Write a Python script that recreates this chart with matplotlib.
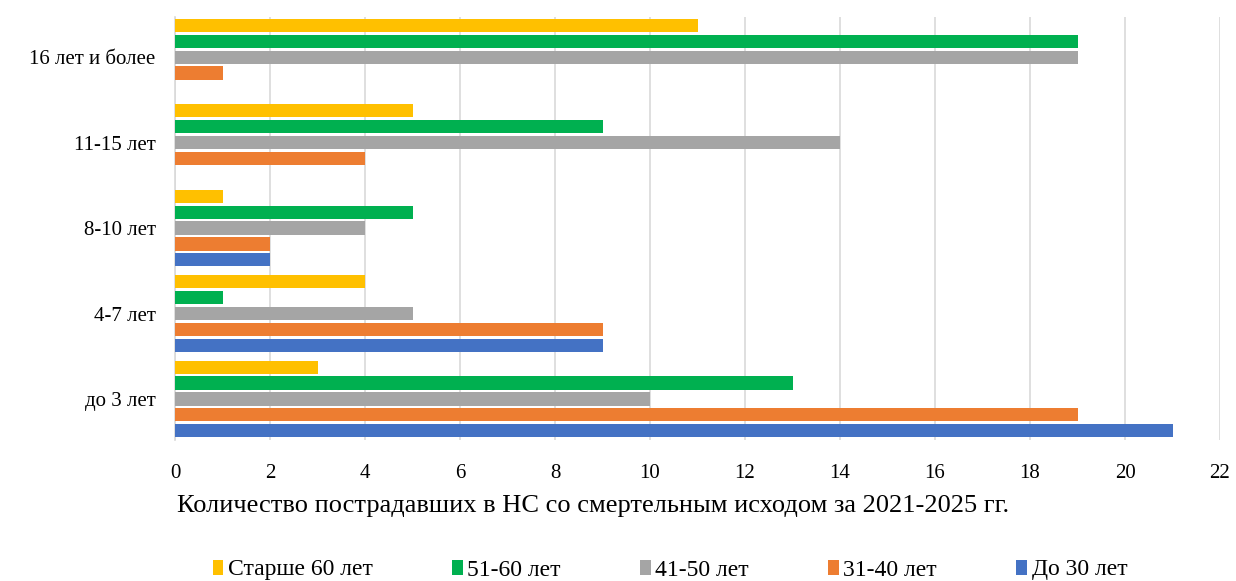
import numpy as np
import matplotlib.pyplot as plt

plt.rcParams['font.family'] = ['Liberation Serif', 'DejaVu Serif']

# Data
categories = ["до 3 лет", "4-7 лет", "8-10 лет", "11-15 лет", "16 лет и более"]
series_names = ["До 30 лет", "31-40 лет", "41-50 лет", "51-60 лет", "Старше 60 лет"]
do_30 = [21, 9, 2, 0, 0]
s31_40 = [19, 9, 2, 4, 1]
s41_50 = [10, 5, 4, 14, 19]
s51_60 = [13, 1, 5, 9, 19]
over_60 = [3, 4, 1, 5, 11]
values = [do_30, s31_40, s41_50, s51_60, over_60]
colors = ["#4472C4", "#ED7D31", "#A5A5A5", "#00B050", "#FFC000"]

fig = plt.figure(figsize=(12.36, 5.81), dpi=100)
ax = fig.add_axes([175 / 1236, 1 - 440 / 581, (1220 - 175) / 1236, (440 - 17) / 581])

y = np.arange(len(categories))
slot = 0.186
height = 0.155
handles = []
for i, (name, vals, c) in enumerate(zip(series_names, values, colors)):
    b = ax.barh(y + (i - 2) * slot, vals, height=height, color=c, label=name, zorder=3)
    handles.append(b)

ax.set_xlim(0, 22)
ax.set_ylim(-0.48, 4.47)
ax.set_xticks(range(0, 23, 2))
ax.set_yticks(y)
ax.set_yticklabels(categories)
ax.tick_params(axis='both', length=0, labelsize=15)
ax.tick_params(axis='y', pad=14)
ax.tick_params(axis='x', pad=17)
ax.grid(axis='x', color='#D9D9D9', linewidth=1.2, zorder=0)
for s in ['top', 'right', 'bottom']:
    ax.spines[s].set_visible(False)
ax.spines['left'].set_color('#D9D9D9')
ax.spines['left'].set_linewidth(1.2)

fig.text(177 / 1236, 1 - 506 / 581,
         "Количество пострадавших в НС со смертельным исходом за 2021-2025 гг.",
         ha='left', va='center', fontsize=19)

# legend in reverse order as in the reference
fig.legend(handles[::-1], series_names[::-1], loc='center', ncol=5,
           bbox_to_anchor=(670 / 1236, 1 - 570 / 581), frameon=False,
           fontsize=17, handlelength=0.45, handleheight=0.6,
           handletextpad=0.2, columnspacing=3.35)

plt.savefig("out.png", dpi=100)
